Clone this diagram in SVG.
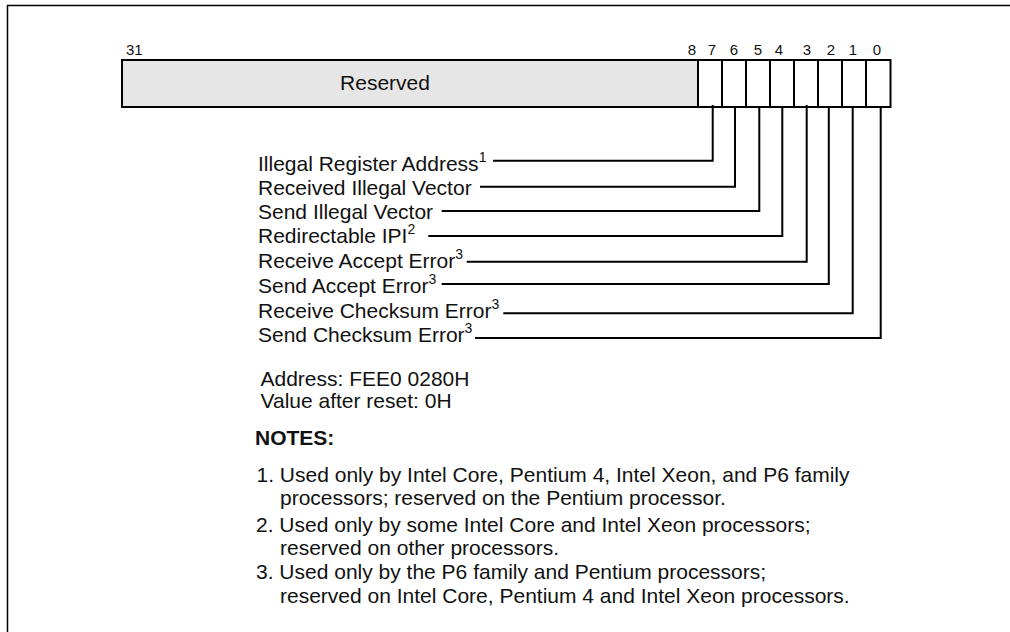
<svg xmlns="http://www.w3.org/2000/svg" width="1010" height="632" viewBox="0 0 1010 632">
<style>
text{font-family:"Liberation Sans",Arial,sans-serif;fill:#111}
.lbl{font-size:21px}
.bit{font-size:15px}
.sup{font-size:14px}
.b{font-weight:bold}
.cell{fill:#fff;stroke:#000;stroke-width:2}
.con{fill:none;stroke:#000;stroke-width:2}
</style>
<rect width="1010" height="632" fill="#fff"/>
<path d="M7.5,632 V5.5 H1010" fill="none" stroke="#000" stroke-width="1.5"/>
<g id="register">
<rect x="122" y="60" width="576" height="47" fill="#e6e6e6" stroke="#000" stroke-width="2"/>
<text class="lbl" x="385" y="90" text-anchor="middle">Reserved</text>
<rect class="cell" x="698" y="60" width="24" height="47"/>
<rect class="cell" x="722" y="60" width="24" height="47"/>
<rect class="cell" x="746" y="60" width="24" height="47"/>
<rect class="cell" x="770" y="60" width="24" height="47"/>
<rect class="cell" x="794" y="60" width="24" height="47"/>
<rect class="cell" x="818" y="60" width="24" height="47"/>
<rect class="cell" x="842" y="60" width="24" height="47"/>
<rect class="cell" x="866" y="60" width="24.5" height="47"/>
</g>
<g id="bit-numbers" class="bit">
<text class="bit" x="126" y="55">31</text>
<text class="bit" x="692" y="55" text-anchor="middle">8</text>
<text class="bit" x="712" y="55" text-anchor="middle">7</text>
<text class="bit" x="734" y="55" text-anchor="middle">6</text>
<text class="bit" x="758" y="55" text-anchor="middle">5</text>
<text class="bit" x="779" y="55" text-anchor="middle">4</text>
<text class="bit" x="807" y="55" text-anchor="middle">3</text>
<text class="bit" x="831" y="55" text-anchor="middle">2</text>
<text class="bit" x="853" y="55" text-anchor="middle">1</text>
<text class="bit" x="877" y="55" text-anchor="middle">0</text>
</g>
<g id="connectors">
<path class="con" d="M712.7,105 V160.7 H493"/>
<path class="con" d="M735,107 V186.7 H480"/>
<path class="con" d="M759.3,107 V211 H441.7"/>
<path class="con" d="M782.3,107 V236 H428.3"/>
<path class="con" d="M806.7,105 V261.7 H466.7"/>
<path class="con" d="M828.8,107 V284 H441.7"/>
<path class="con" d="M852.7,107 V313.3 H503.3"/>
<path class="con" d="M880.7,107 V339 M881.7,338 H475"/>
</g>
<g id="bit7"><text class="lbl" x="258" y="171">Illegal Register Address<tspan class="sup" dy="-9">1</tspan></text></g>
<g id="bit6"><text class="lbl" x="258" y="195">Received Illegal Vector</text></g>
<g id="bit5"><text class="lbl" x="258" y="219">Send Illegal Vector</text></g>
<g id="bit4"><text class="lbl" x="258" y="243">Redirectable IPI<tspan class="sup" dy="-9">2</tspan></text></g>
<g id="bit3"><text class="lbl" x="258" y="268">Receive Accept Error<tspan class="sup" dy="-9">3</tspan></text></g>
<g id="bit2"><text class="lbl" x="258" y="293">Send Accept Error<tspan class="sup" dy="-9">3</tspan></text></g>
<g id="bit1"><text class="lbl" x="258" y="318">Receive Checksum Error<tspan class="sup" dy="-9">3</tspan></text></g>
<g id="bit0"><text class="lbl" x="258" y="342">Send Checksum Error<tspan class="sup" dy="-9">3</tspan></text></g>
<g id="info">
<text class="lbl" x="260.5" y="386">Address: FEE0 0280H</text>
<text class="lbl" x="260.5" y="408">Value after reset: 0H</text>
</g>
<g id="notes">
<text class="lbl b" x="255" y="445">NOTES:</text>
<text class="lbl" x="256.5" y="481.7">1. Used only by Intel Core, Pentium 4, Intel Xeon, and P6 family</text>
<text class="lbl" x="280" y="504.5">processors; reserved on the Pentium processor.</text>
<text class="lbl" x="256" y="531.5">2. Used only by some Intel Core and Intel Xeon processors;</text>
<text class="lbl" x="280" y="555">reserved on other processors.</text>
<text class="lbl" x="256" y="578.5">3. Used only by the P6 family and Pentium processors;</text>
<text class="lbl" x="280" y="602.5">reserved on Intel Core, Pentium 4 and Intel Xeon processors.</text>
</g>
</svg>
